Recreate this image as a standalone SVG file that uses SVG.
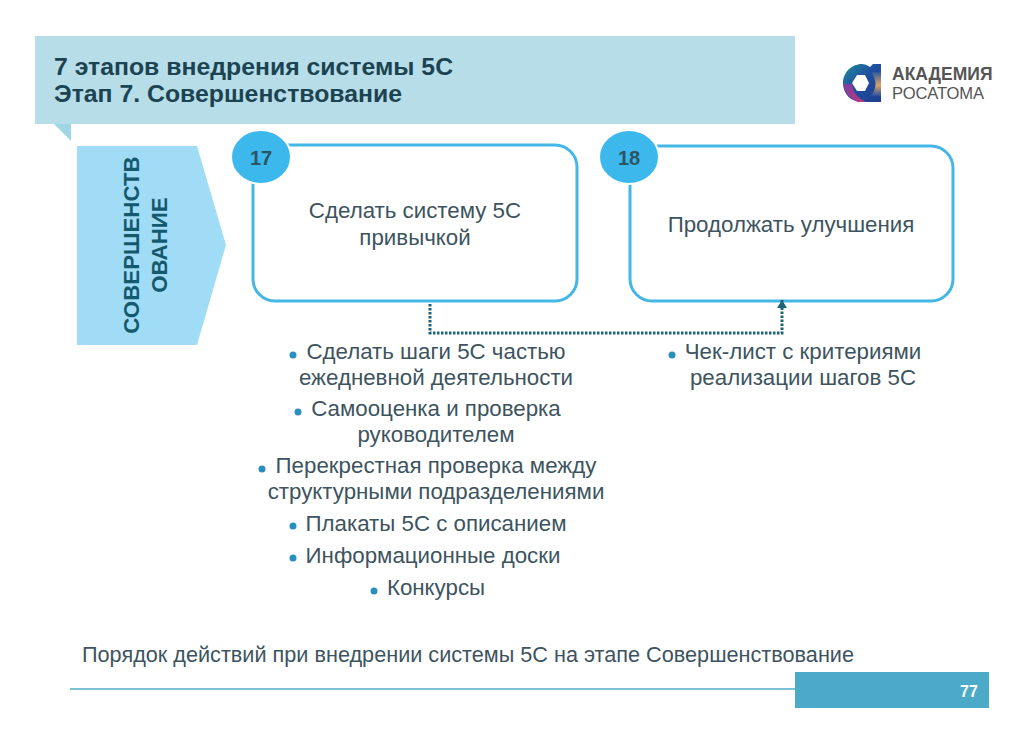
<svg xmlns="http://www.w3.org/2000/svg" width="1024" height="742" viewBox="0 0 1024 742">
<style>
text{font-family:"Liberation Sans",Arial,sans-serif}
.t{font-size:22.300px;fill:#3d5460;text-anchor:middle}
.h{font-size:24.800px;font-weight:bold;fill:#1c4351}
.box{fill:#fff;stroke:#45b7e6;stroke-width:3}
.n{fill:#3db8ec}
.nt{font-size:20px;font-weight:bold;fill:#2a5564;text-anchor:middle}
.v{font-size:22.300px;font-weight:bold;fill:#15596f;text-anchor:middle}
.b{fill:#2a8fbd}
</style>
<defs>
<marker id="a" markerWidth="9" markerHeight="10" refX="8" refY="5" orient="auto" markerUnits="userSpaceOnUse" viewBox="0 0 9 10"><path d="M0 0L8 5L0 10Z" fill="#1d6478"/></marker>
<linearGradient id="lg" x1="0" y1="0" x2="1" y2="1"><stop offset="0" stop-color="#1f8f9c"/><stop offset=".45" stop-color="#1f4f9f"/><stop offset="1" stop-color="#1d3f8f"/></linearGradient>
<linearGradient id="lo" x1="0" y1="0" x2="0" y2="1"><stop offset="0" stop-color="#2a5aa0"/><stop offset=".55" stop-color="#d8a468"/><stop offset="1" stop-color="#2a4f9f"/></linearGradient>
<linearGradient id="lp" x1="0" y1="0" x2="1" y2="1"><stop offset="0" stop-color="#7a3fa0"/><stop offset="1" stop-color="#c0397f"/></linearGradient>
</defs>
<rect width="1024" height="742" fill="#fff"/>
<g id="header">
<path d="M54 124H71V141Z" fill="#9fd5e4"/>
<rect x="35" y="36" width="760" height="88" fill="#b6dde8"/>
<text class="h" x="54" y="75">7 этапов внедрения системы 5С</text>
<text class="h" x="54" y="102">Этап 7. Совершенствование</text>
</g>
<g id="logo">
<path d="M862 64C851 64 843 73 843 83C843 94 851 102 862 102H881V64H873L870 67Q866 64 862 64Z" fill="url(#lg)"/>
<path d="M871 72Q880 84 871 96H881V72Z" fill="url(#lo)"/>
<path d="M843 84Q845 97 858 102H866Q853 96 852 84Z" fill="url(#lp)"/>
<path d="M857 75H865L869 83L865 91H857L852 83Z" fill="#fff"/>
<text x="892" y="80" font-size="17.500" font-weight="bold" fill="#555">АКАДЕМИЯ</text>
<text x="892" y="99" font-size="16.600" fill="#555">РОСАТОМА</text>
</g>
<g id="stage">
<path d="M77 146H197L226 245L197 345H77Z" fill="#a0dcf6"/>
<text class="v" transform="translate(139 245) rotate(-90)">СОВЕРШЕНСТВ</text>
<text class="v" transform="translate(167 245) rotate(-90)">ОВАНИЕ</text>
</g>
<g id="node17">
<rect class="box" x="253" y="145" width="324" height="156" rx="22"/>
<ellipse class="n" cx="261" cy="157" rx="30" ry="27" stroke="#fff" stroke-width="2"/>
<text class="nt" x="261" y="165">17</text>
<text class="t" x="415" y="218">Сделать систему 5С</text>
<text class="t" x="415" y="245">привычкой</text>
</g>
<g id="node18">
<rect class="box" x="630" y="146" width="323" height="155" rx="22"/>
<ellipse class="n" cx="629" cy="157" rx="30" ry="27" stroke="#fff" stroke-width="2"/>
<text class="nt" x="629" y="165">18</text>
<text class="t" x="791" y="232">Продолжать улучшения</text>
</g>
<g id="connectors">
<path d="M430 304V333H782V300" fill="none" stroke="#1d6478" stroke-width="3" stroke-dasharray="2.500 1.500" marker-end="url(#a)"/>
</g>
<g id="list-left">
<circle class="b" cx="293" cy="355" r="3.500"/><text class="t" x="436" y="359">Сделать шаги 5С частью</text>
<text class="t" x="436" y="385">ежедневной деятельности</text>
<circle class="b" cx="298" cy="412" r="3.500"/><text class="t" x="436" y="416">Самооценка и проверка</text>
<text class="t" x="436" y="442">руководителем</text>
<circle class="b" cx="262" cy="469" r="3.500"/><text class="t" x="436" y="473">Перекрестная проверка между</text>
<text class="t" x="436" y="499">структурными подразделениями</text>
<circle class="b" cx="293" cy="526" r="3.500"/><text class="t" x="436" y="531">Плакаты 5С с описанием</text>
<circle class="b" cx="293" cy="558" r="3.500"/><text class="t" x="433" y="563">Информационные доски</text>
<circle class="b" cx="374" cy="591" r="3.500"/><text class="t" x="436" y="595">Конкурсы</text>
</g>
<g id="list-right">
<circle class="b" cx="672" cy="355" r="3.500"/><text class="t" x="803" y="359">Чек-лист с критериями</text>
<text class="t" x="803" y="385">реализации шагов 5С</text>
</g>
<text x="82" y="662" font-size="21.660" fill="#3d5460">Порядок действий при внедрении системы 5С на этапе Совершенствование</text>
<g id="footer">
<path d="M70 689H795" stroke="#7cc0d4" stroke-width="2"/>
<rect x="795" y="672" width="194" height="36" fill="#4baac7"/>
<text x="969" y="697" font-size="16" font-weight="bold" fill="#fff" text-anchor="middle">77</text>
</g>
</svg>
